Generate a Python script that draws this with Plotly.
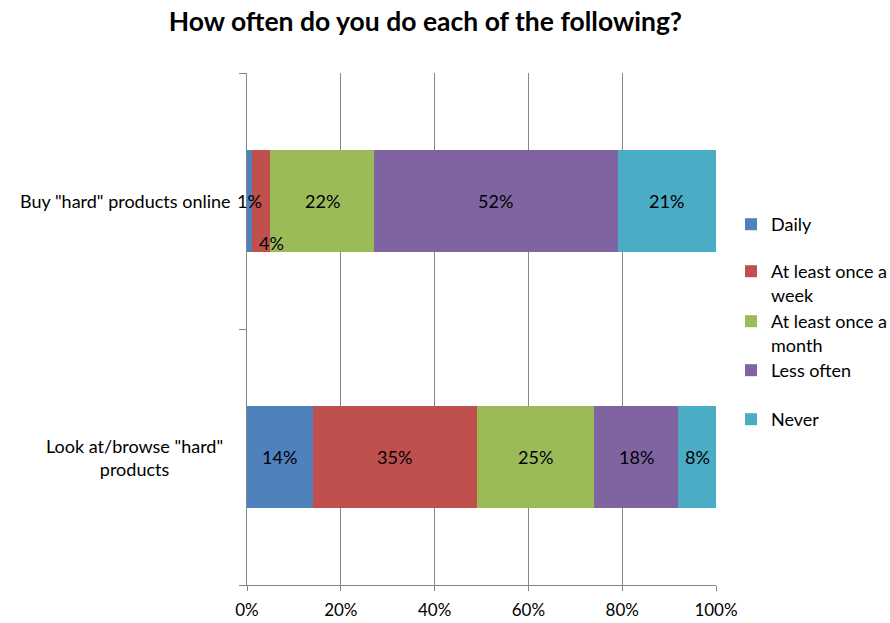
import plotly.graph_objects as go

# Survey data
categories = ['Look at/browse "hard"<br>products', 'Buy "hard" products online']
series = ["Daily", "At least once a<br>week", "At least once a<br>month", "Less often", "Never"]
values = {
    "Daily": [14, 1],
    "At least once a<br>week": [35, 4],
    "At least once a<br>month": [25, 22],
    "Less often": [18, 52],
    "Never": [8, 21],
}
colors = ["#4F81BD", "#C0504D", "#9BBB59", "#8064A2", "#4BACC6"]
x_ticks = [0, 20, 40, 60, 80, 100]
x_tick_labels = ["0%", "20%", "40%", "60%", "80%", "100%"]

FONT = "Lato"
GRID = "#868686"

fig = go.Figure()
legend_names = ["legend", "legend2", "legend3", "legend4", "legend5"]
for name, color, lg in zip(series, colors, legend_names):
    fig.add_trace(go.Bar(
        y=list(range(len(categories))),
        x=values[name],
        name=name,
        orientation="h",
        marker=dict(color=color, line=dict(width=0)),
        width=0.4,
        legend=lg,
        hoverinfo="x+name",
    ))

# Value labels centred on each segment
annotations = []
for ci in range(len(categories)):
    start = 0
    for name in series:
        v = values[name][ci]
        xs, ys = 0, 0
        if ci == 1 and name == "At least once a<br>week":
            xs, ys = 10, -42  # crowded label moved below the bar
        annotations.append(dict(
            x=start + v / 2, y=ci, xref="x", yref="y",
            text=f"{v}%", showarrow=False, xshift=xs, yshift=ys,
            font=dict(family=FONT, size=18, color="#000000"),
        ))
        start += v

# Category labels
cat_shift = [-22, -14]
for ci, cat in enumerate(categories):
    annotations.append(dict(
        x=0, y=ci, xref="paper", yref="y", xanchor="right",
        xshift=cat_shift[ci], text=cat, showarrow=False, align="center",
        font=dict(family=FONT, size=18, color="#000000"),
    ))

legend_tops = [0.7402, 0.6484, 0.5508, 0.4551, 0.3594]
legend_layout = {}
for lg, yt in zip(legend_names, legend_tops):
    legend_layout[lg] = dict(
        x=1.032, y=yt, xanchor="left", yanchor="top",
        font=dict(family=FONT, size=18, color="#000000"),
        bgcolor="rgba(0,0,0,0)", valign="top",
        itemclick=False, itemdoubleclick=False,
    )

fig.update_layout(
    width=890, height=623,
    margin=dict(l=247, r=174, t=73, b=38, autoexpand=False),
    barmode="stack",
    plot_bgcolor="white", paper_bgcolor="white",
    title=dict(
        text="How often do you do each of the following?",
        x=0.478, xanchor="center", y=0.965, yanchor="middle",
        font=dict(family=FONT, size=26.5, color="#000000", weight="bold"),
    ),
    xaxis=dict(
        range=[0, 100], tickvals=x_ticks, ticktext=x_tick_labels,
        showgrid=True, gridcolor=GRID, gridwidth=1,
        showline=True, linecolor=GRID, linewidth=1,
        ticks="outside", ticklen=5, tickcolor=GRID,
        zeroline=False, ticklabelstandoff=5, automargin=False,
        tickfont=dict(family=FONT, size=17, color="#000000"),
        fixedrange=True,
    ),
    yaxis=dict(
        range=[-0.5, 1.5], tickvals=[-0.5, 0.5, 1.5],
        showticklabels=False, showgrid=False, zeroline=False,
        showline=True, linecolor=GRID, linewidth=1,
        ticks="outside", ticklen=7, tickcolor=GRID,
        automargin=False, fixedrange=True,
    ),
    annotations=annotations,
    showlegend=True,
    **legend_layout,
)

fig.write_html("out.html")
